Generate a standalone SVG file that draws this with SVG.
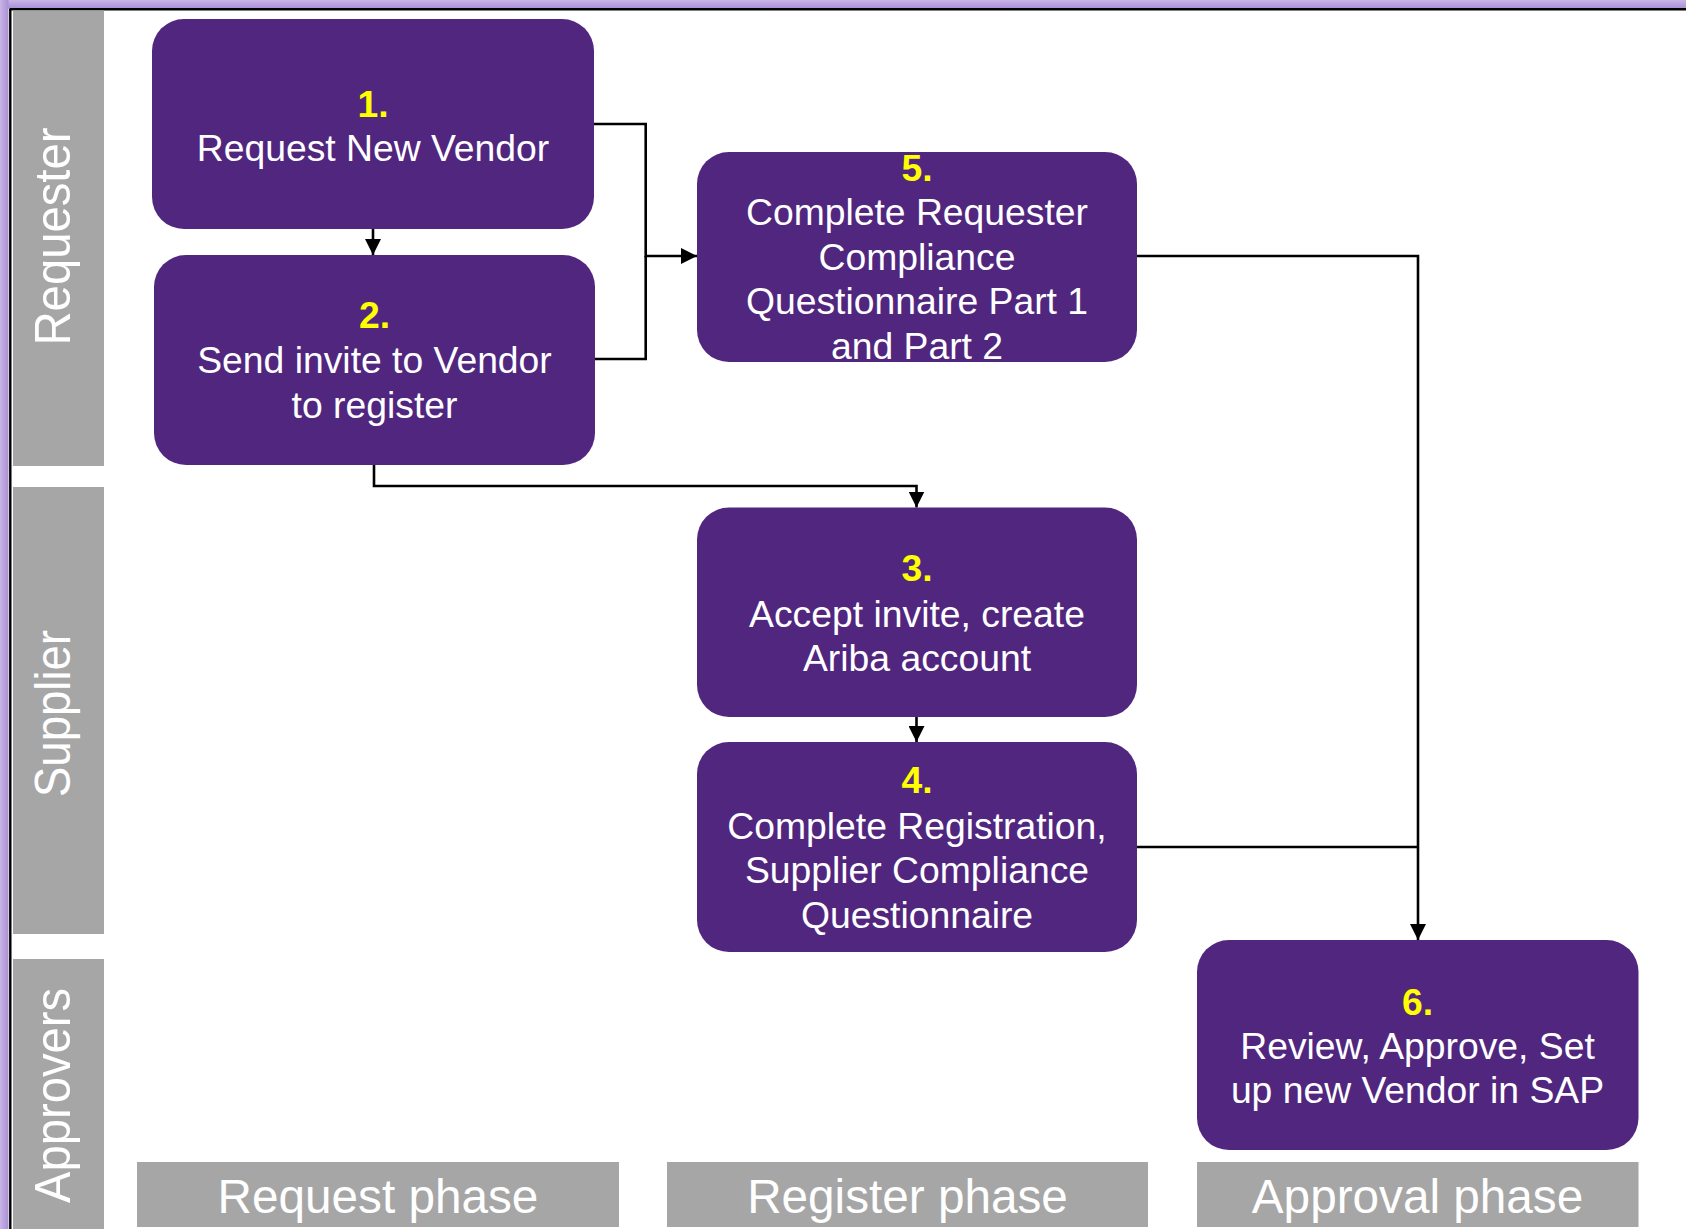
<svg xmlns="http://www.w3.org/2000/svg" width="1686" height="1229" viewBox="0 0 1686 1229">
  <defs>
    <linearGradient id="bandTop" x1="0" y1="0" x2="0" y2="1">
      <stop offset="0" stop-color="#c9b5e6"/>
      <stop offset="1" stop-color="#a98fd4"/>
    </linearGradient>
    <linearGradient id="bandLeft" x1="0" y1="0" x2="1" y2="0">
      <stop offset="0" stop-color="#c9b5e6"/>
      <stop offset="1" stop-color="#a98fd4"/>
    </linearGradient>
    <marker id="arrow" markerUnits="userSpaceOnUse" markerWidth="16" markerHeight="16" refX="16" refY="8" orient="auto">
      <path d="M0,0 L16,8 L0,16 z" fill="#000"/>
    </marker>
    <style>
      .lane { fill: #a6a6a6; }
      .laneText { font-family: "Liberation Sans", Arial, sans-serif; font-size: 50px; fill: #ffffff; text-anchor: middle; }
      .phaseText { font-family: "Liberation Sans", Arial, sans-serif; font-size: 47.7px; fill: #ffffff; text-anchor: middle; }
      .box { fill: #51267f; }
      .num { font-family: "Liberation Sans", Arial, sans-serif; font-size: 37.3px; font-weight: bold; fill: #ffff00; text-anchor: middle; }
      .lbl { font-family: "Liberation Sans", Arial, sans-serif; font-size: 37.3px; fill: #ffffff; text-anchor: middle; }
      .conn { fill: none; stroke: #000; stroke-width: 2.6; }
    </style>
  </defs>

  <rect x="0" y="0" width="1686" height="1229" fill="#ffffff"/>
  <!-- frame -->
  <rect x="0" y="0" width="1686" height="8.5" fill="url(#bandTop)"/>
  <rect x="0" y="0" width="8.5" height="1229" fill="url(#bandLeft)"/>
  <line x1="9.5" y1="9.3" x2="1686" y2="9.3" stroke="#000" stroke-width="2.4"/>
  <line x1="10.3" y1="9" x2="10.3" y2="1229" stroke="#000" stroke-width="2.4"/>

  <!-- swimlane labels -->
  <g id="lane-requester">
    <rect class="lane" x="13" y="10.5" width="91" height="455.5"/>
    <text class="laneText" transform="translate(70,236.5) rotate(-90)" textLength="218" lengthAdjust="spacingAndGlyphs">Requester</text>
  </g>
  <g id="lane-supplier">
    <rect class="lane" x="13" y="487" width="91" height="447"/>
    <text class="laneText" transform="translate(70,713.5) rotate(-90)" textLength="167" lengthAdjust="spacingAndGlyphs">Supplier</text>
  </g>
  <g id="lane-approvers">
    <rect class="lane" x="13" y="959" width="91" height="270"/>
    <text class="laneText" transform="translate(70,1095.5) rotate(-90)" textLength="215" lengthAdjust="spacingAndGlyphs">Approvers</text>
  </g>

  <!-- phase labels -->
  <g id="phase-request">
    <rect class="lane" x="137" y="1162" width="482" height="65"/>
    <text class="phaseText" x="378" y="1213">Request phase</text>
  </g>
  <g id="phase-register">
    <rect class="lane" x="667" y="1162" width="481" height="65"/>
    <text class="phaseText" x="907.5" y="1213">Register phase</text>
  </g>
  <g id="phase-approval">
    <rect class="lane" x="1197" y="1162" width="441.5" height="65"/>
    <text class="phaseText" x="1417.5" y="1213">Approval phase</text>
  </g>

  <!-- connectors -->
  <g id="connectors">
    <path class="conn" d="M373,229 V255" marker-end="url(#arrow)"/>
    <path class="conn" d="M594,124 H645.7 V256 H697" marker-end="url(#arrow)"/>
    <path class="conn" d="M595,359 H645.7 V256"/>
    <path class="conn" d="M374,465 V486 H916.5 V507.5" marker-end="url(#arrow)"/>
    <path class="conn" d="M916.5,717 V742" marker-end="url(#arrow)"/>
    <path class="conn" d="M1137,256 H1418 V940" marker-end="url(#arrow)"/>
    <path class="conn" d="M1137,847 H1418"/>
  </g>

  <!-- nodes -->
  <g id="node1">
    <rect class="box" x="152" y="19" width="442" height="210" rx="32" ry="32"/>
    <text class="num" x="373" y="117">1.</text>
    <text class="lbl" x="373" y="161">Request New Vendor</text>
  </g>
  <g id="node2">
    <rect class="box" x="154" y="255" width="441" height="210" rx="32" ry="32"/>
    <text class="num" x="374.5" y="328">2.</text>
    <text class="lbl" x="374.5" y="373">Send invite to Vendor</text>
    <text class="lbl" x="374.5" y="418">to register</text>
  </g>
  <g id="node5">
    <rect class="box" x="697" y="152" width="440" height="210" rx="32" ry="32"/>
    <text class="num" x="917" y="181">5.</text>
    <text class="lbl" x="917" y="224.5">Complete Requester</text>
    <text class="lbl" x="917" y="269.5">Compliance</text>
    <text class="lbl" x="917" y="314">Questionnaire Part 1</text>
    <text class="lbl" x="917" y="358.5">and Part 2</text>
  </g>
  <g id="node3">
    <rect class="box" x="697" y="507.5" width="440" height="209.5" rx="32" ry="32"/>
    <text class="num" x="917" y="581">3.</text>
    <text class="lbl" x="917" y="626.5">Accept invite, create</text>
    <text class="lbl" x="917" y="671">Ariba account</text>
  </g>
  <g id="node4">
    <rect class="box" x="697" y="742" width="440" height="210" rx="32" ry="32"/>
    <text class="num" x="917" y="793">4.</text>
    <text class="lbl" x="917" y="838.5">Complete Registration,</text>
    <text class="lbl" x="917" y="883">Supplier Compliance</text>
    <text class="lbl" x="917" y="927.5">Questionnaire</text>
  </g>
  <g id="node6">
    <rect class="box" x="1197" y="940" width="441.5" height="210" rx="32" ry="32"/>
    <text class="num" x="1417.5" y="1015">6.</text>
    <text class="lbl" x="1417.5" y="1058.5">Review, Approve, Set</text>
    <text class="lbl" x="1417.5" y="1103">up new Vendor in SAP</text>
  </g>
</svg>
